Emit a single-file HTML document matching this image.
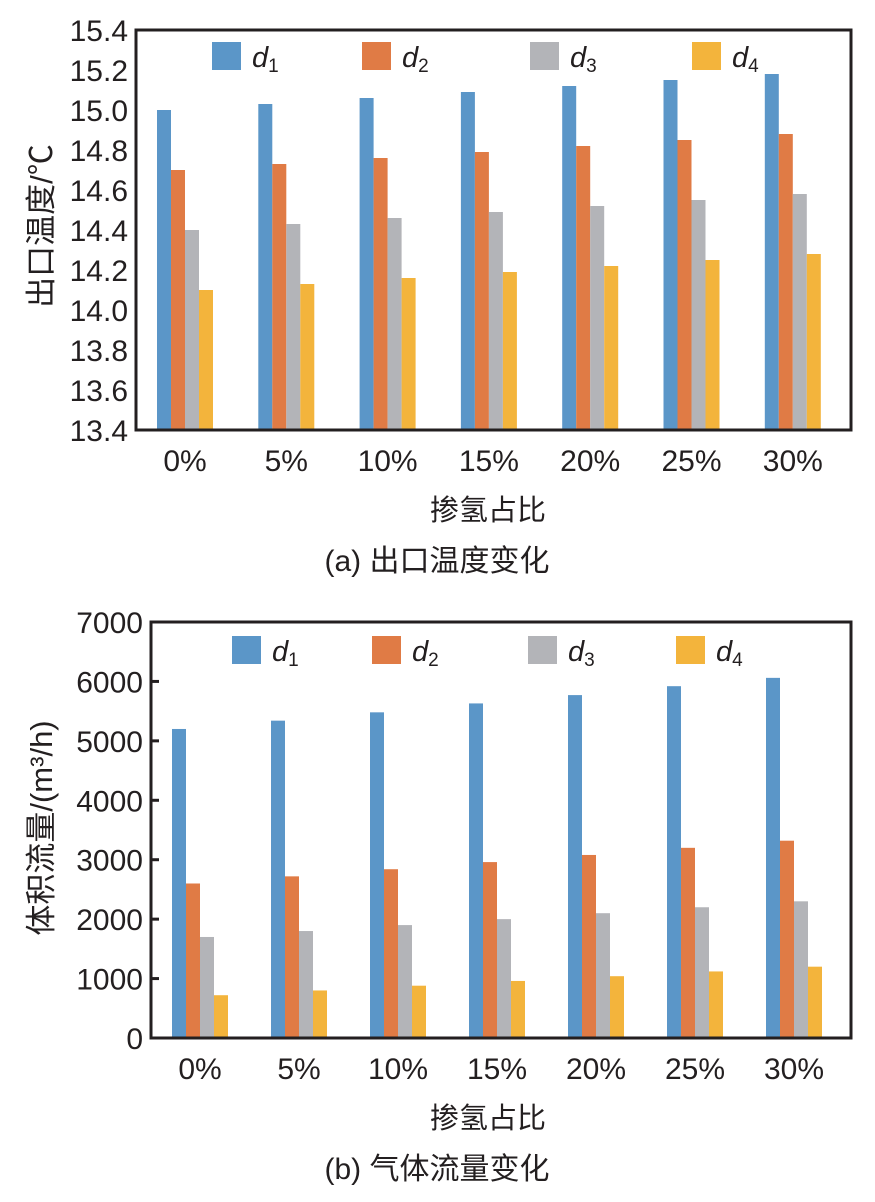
<!DOCTYPE html>
<html><head><meta charset="utf-8"><style>
body{margin:0;background:#fff;}
svg text{font-family:"Liberation Sans","Noto Sans CJK SC",sans-serif;fill:#231f20;}
</style></head><body>
<svg id="s" width="875" height="1197"></svg>
<script>
const categories=["0%","5%","10%","15%","20%","25%","30%"];
const seriesNames=["1","2","3","4"];
const tempD1=[15.00,15.03,15.06,15.09,15.12,15.15,15.18];
const tempD2=[14.70,14.73,14.76,14.79,14.82,14.85,14.88];
const tempD3=[14.40,14.43,14.46,14.49,14.52,14.55,14.58];
const tempD4=[14.10,14.13,14.16,14.19,14.22,14.25,14.28];
const tempTicks=["13.4","13.6","13.8","14.0","14.2","14.4","14.6","14.8","15.0","15.2","15.4"];
const flowD1=[5200,5340,5480,5630,5770,5920,6060];
const flowD2=[2600,2720,2840,2960,3080,3200,3320];
const flowD3=[1700,1800,1900,2000,2100,2200,2300];
const flowD4=[720,800,880,960,1040,1120,1200];
const flowTicks=["0","1000","2000","3000","4000","5000","6000","7000"];
const colors=["#5b96c8","#e07b45","#b3b4b8","#f3b43c"];
const NS="http://www.w3.org/2000/svg";
const svg=document.getElementById('s');
function mk(tag,attrs,parent){const e=document.createElementNS(NS,tag);for(const k in attrs)e.setAttribute(k,attrs[k]);(parent||svg).appendChild(e);return e;}
function chart(cfg){
  const g=mk('g',{});
  
  
  const {L,R,T,B,min,max}=cfg;
  const y=v=>B-(v-min)/(max-min)*(B-T);
  const band=cfg.band, bw=14;
  const gx=ci=>cfg.first+band*ci;
  cfg.ticks.forEach(t=>{
    const v=parseFloat(t);
    const tx=mk('text',{x:L-8,y:y(v)+11,'text-anchor':'end','font-size':30},g);
    tx.textContent=t;
    
    
    if(cfg.tickMarks){const tm=mk('line',{x1:L,x2:L+8,y1:y(v),y2:y(v),stroke:'#231f20','stroke-width':3},g);
      
      }
  });
  cfg.series.forEach((arr,si)=>{
    arr.forEach((v,ci)=>{
      const x=gx(ci)+si*bw;
      const r=mk('rect',{x:x,y:y(v),width:bw,height:B-y(v),fill:colors[si]},g);
      
      
    });
  });
  categories.forEach((c,ci)=>{
    const t=mk('text',{x:gx(ci)+2*bw,y:B+41,'text-anchor':'middle','font-size':30},g);
    t.textContent=c;
    
    
  });
  const fr=mk('rect',{x:L,y:T,width:R-L,height:B-T,fill:'none',stroke:'#231f20','stroke-width':3},g);
  
  
  cfg.legendX.forEach((lx,i)=>{
    const r=mk('rect',{x:lx,y:cfg.legendY,width:29,height:28,fill:colors[i]},g);
    
    
    const t=mk('text',{x:lx+40,y:cfg.legendY+25,'font-size':29,'font-style':'italic'},g);
    t.innerHTML='d<tspan font-size="19" font-style="normal" dy="5">'+seriesNames[i]+'</tspan>';
    
    
  });
  const yt=mk('text',{x:0,y:0,'text-anchor':'middle','font-size':cfg.ytSize,transform:`translate(${cfg.ytX},${cfg.ytY}) rotate(-90)`},g);
  yt.textContent=cfg.ytitle;
  
  
  const xt=mk('text',{x:488,y:B+90,'text-anchor':'middle','font-size':29},g);
  xt.textContent='掺氢占比';
  
  
  const cp=mk('text',{x:437,y:B+141,'text-anchor':'middle','font-size':30},g);
  cp.textContent=cfg.caption;
  
  
}
chart({name:'temperature-chart',L:136,R:851,T:30,B:430,min:13.4,max:15.4,ticks:tempTicks,series:[tempD1,tempD2,tempD3,tempD4],
  first:157,band:101.3,
  legendX:[212,362,530,692],legendY:42,ytX:52,ytY:226,ytSize:31,ytitle:'出口温度/℃',caption:'(a) 出口温度变化',tickMarks:false});
chart({name:'flow-chart',L:151,R:851,T:622,B:1038,min:0,max:7000,ticks:flowTicks,series:[flowD1,flowD2,flowD3,flowD4],
  first:172,band:99,
  legendX:[232,372,528,676],legendY:636,ytX:52,ytY:828,ytSize:31,ytitle:'体积流量/(m³/h)',caption:'(b) 气体流量变化',tickMarks:true});
</script>
</body></html>
